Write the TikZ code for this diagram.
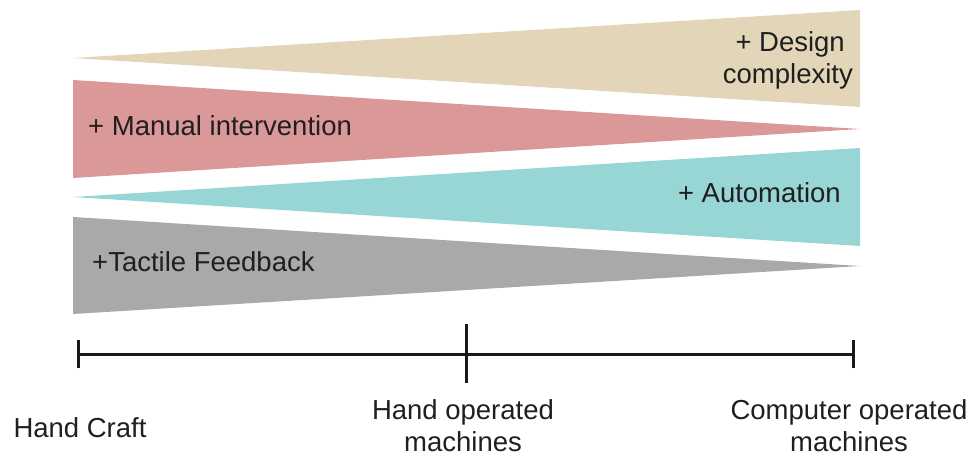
\documentclass[tikz,border=0pt]{standalone}
\usepackage{fontspec}
\setmainfont{Liberation Sans}
\definecolor{tanc}{HTML}{E3D5B7}
\definecolor{redc}{HTML}{DB9898}
\definecolor{tealc}{HTML}{98D5D5}
\definecolor{greyc}{HTML}{A9A9A9}
\begin{document}
\begin{tikzpicture}[x=1pt,y=-1pt,
  lbl/.style={inner sep=0pt, font=\fontsize{27.5}{32}\selectfont, text=black!88},
  axis/.style={line width=3pt, black!90}]
\useasboundingbox (0,0) rectangle (973,457);
% wedges
\fill[tanc] (73,58) -- (860,10) -- (860,107) -- cycle;
\fill[redc] (73,80) -- (860,129) -- (73,178) -- cycle;
\fill[tealc] (73,197) -- (860,148) -- (860,246) -- cycle;
\fill[greyc] (73,217) -- (860,266) -- (73,314) -- cycle;
% labels on wedges
\node[lbl, align=right, anchor=east] (dc) at (853,60) {+ Design\kern8pt\\complexity};
\node[lbl, anchor=west] (mi) at (88,126) {+ Manual intervention};
\node[lbl, anchor=east] (au) at (841,193) {+ Automation};
\node[lbl, anchor=west] (tf) at (92,262) {+Tactile Feedback};
% timeline
\coordinate (t1) at (78,354);
\coordinate (t2) at (466,354);
\coordinate (t3) at (853,354);
\draw[axis] (t1) -- (t3);
\draw[axis] ([yshift=-14]t1) -- ([yshift=14]t1);
\draw[axis] ([yshift=-29]t2) -- ([yshift=30]t2);
\draw[axis] ([yshift=-14]t3) -- ([yshift=14]t3);
% timeline labels
\node[lbl] (hc) at (80,428) {Hand Craft};
\node[lbl, align=center] (ho) at (463,426) {Hand operated\\machines};
\node[lbl, align=center] (co) at (849,426) {Computer operated\\machines};
\end{tikzpicture}
\end{document}
